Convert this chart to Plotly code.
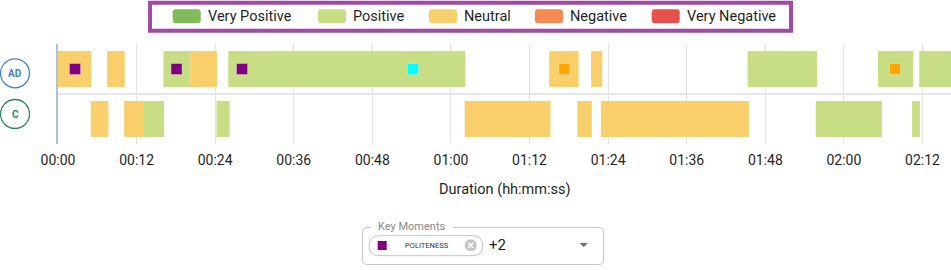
import plotly.graph_objects as go

# ---------------- data ----------------
rows = ["C", "AD"]  # bottom -> top
row_colors = {"AD": "#3f80d6", "C": "#2a8a66"}

sentiments = ["Very Positive", "Positive", "Neutral", "Negative", "Very Negative"]
sentiment_colors = ["#82bb5a", "#c8de84", "#f8cf6b", "#f58b53", "#e6524b"]

# speaker AD segments (seconds)
ad_start = [0.0, 7.5, 16.1, 20.2, 26.0, 75.0, 81.4, 105.3, 125.2, 131.5]
ad_end = [5.1, 10.2, 20.2, 24.3, 62.2, 79.5, 83.1, 115.9, 130.6, 136.4]
ad_sentiment = ["Neutral", "Neutral", "Positive", "Neutral", "Positive",
                "Neutral", "Neutral", "Positive", "Positive", "Positive"]

# speaker C segments (seconds)
c_start = [5.0, 10.1, 13.1, 24.2, 62.1, 79.3, 82.9, 115.7, 130.4]
c_end = [7.7, 13.1, 16.2, 26.2, 75.2, 81.5, 105.5, 125.8, 131.6]
c_sentiment = ["Neutral", "Neutral", "Positive", "Positive", "Neutral",
               "Neutral", "Neutral", "Positive", "Positive"]

# key moments (on AD row)
moment_time = [2.6, 18.1, 28.1, 54.2, 77.3, 127.8]
moment_color = ["#800080", "#800080", "#800080", "#00ffff", "#ffa500", "#ffa500"]

tick_vals = [0, 12, 24, 36, 48, 60, 72, 84, 96, 108, 120, 132]
tick_text = ["00:00", "00:12", "00:24", "00:36", "00:48", "01:00",
             "01:12", "01:24", "01:36", "01:48", "02:00", "02:12"]
x_max = 136.35

# ---------------- figure ----------------
W, H = 951, 270
ML, MR, MT, MB = 58, 0, 44, 126
PW, PH = W - ML - MR, H - MT - MB


def xp(px):
    return (px - ML) / PW


def yp(py):
    return (H - MB - py) / PH


FONT = "Roboto"
fig = go.Figure()

for name, col in zip(sentiments, sentiment_colors):
    base, dur, ys = [], [], []
    for s, e, sen in zip(ad_start, ad_end, ad_sentiment):
        if sen == name:
            base.append(s); dur.append(e - s); ys.append(rows.index("AD"))
    for s, e, sen in zip(c_start, c_end, c_sentiment):
        if sen == name:
            base.append(s); dur.append(e - s); ys.append(rows.index("C"))
    fig.add_trace(go.Bar(
        x=dur, base=base, y=ys, orientation="h", width=0.72,
        marker=dict(color=col, line=dict(width=0)), name=name,
        showlegend=False, hoverinfo="skip"))

fig.add_trace(go.Scatter(
    x=moment_time, y=[rows.index("AD")] * len(moment_time), mode="markers",
    marker=dict(symbol="square", size=11, color=moment_color,
                line=dict(width=1, color="rgba(255,255,255,0.3)")),
    showlegend=False, hoverinfo="skip"))

shapes = []
annotations = []

# row label circles
for r in rows:
    cy = 73.3 if r == "AD" else 114.0
    shapes.append(dict(type="circle", xref="paper", yref="paper",
                       x0=xp(0.5), x1=xp(29.5), y0=yp(cy - 14.5), y1=yp(cy + 14.5),
                       line=dict(color=row_colors[r], width=1.3),
                       fillcolor="white"))
    annotations.append(dict(x=xp(15), y=yp(cy), xref="paper", yref="paper",
                            xanchor="center", yanchor="middle",
                            text="<b>%s</b>" % r, showarrow=False,
                            font=dict(family=FONT, size=10, color=row_colors[r])))

# legend box
shapes.append(dict(type="rect", xref="paper", yref="paper",
                   x0=xp(150), x1=xp(791), y0=yp(2.7), y1=yp(30.7),
                   line=dict(color="#a04aa3", width=4), fillcolor="white"))
legend_x = [172.7, 318, 429, 535, 651.7]
for name, col, lx in zip(sentiments, sentiment_colors, legend_x):
    shapes.append(dict(type="path", xref="paper", yref="paper",
                       path=("M {a},{b} L {c},{b} Q {d},{b} {d},{e} L {d},{f} Q {d},{g} {c},{g} "
                             "L {a},{g} Q {h},{g} {h},{f} L {h},{e} Q {h},{b} {a},{b} Z").format(
                           a=xp(lx + 3), c=xp(lx + 25), d=xp(lx + 28), h=xp(lx),
                           b=yp(9.3), e=yp(12.3), f=yp(20.3), g=yp(23.3)),
                       line=dict(width=0), fillcolor=col))
    annotations.append(dict(x=xp(lx + 33), y=yp(16.3), xref="paper", yref="paper",
                            text=name, showarrow=False, xanchor="left", yanchor="middle",
                            font=dict(family=FONT, size=14.5, color="#1f1f1f")))

# axis title
annotations.append(dict(x=0.5, y=yp(189), xref="paper", yref="paper",
                        text="Duration (hh:mm:ss)", showarrow=False,
                        xanchor="center", yanchor="middle",
                        font=dict(family=FONT, size=14.5, color="#1f1f1f")))

# Key Moments widget
def rrect(x0, y0, x1, y1, r):
    return ("M {a},{y0} L {b},{y0} Q {x1},{y0} {x1},{c} L {x1},{d} Q {x1},{y1} {b},{y1} "
            "L {a},{y1} Q {x0},{y1} {x0},{d} L {x0},{c} Q {x0},{y0} {a},{y0} Z").format(
        a=xp(x0 + r), b=xp(x1 - r), x0=xp(x0), x1=xp(x1),
        y0=yp(y0), y1=yp(y1), c=yp(y0 + r), d=yp(y1 - r))

shapes.append(dict(type="path", xref="paper", yref="paper",
                   path=rrect(362.5, 227.5, 603.5, 264.5, 4),
                   line=dict(color="#c6c6c6", width=1), fillcolor="white"))
shapes.append(dict(type="rect", xref="paper", yref="paper",
                   x0=xp(371), x1=xp(453), y0=yp(224), y1=yp(231),
                   line=dict(width=0), fillcolor="white"))
annotations.append(dict(x=xp(375.5), y=yp(226.5), xref="paper", yref="paper",
                        text="Key Moments", showarrow=False, xanchor="left", yanchor="middle",
                        font=dict(family=FONT, size=11, color="#8a8a8a")))
shapes.append(dict(type="path", xref="paper", yref="paper",
                   path=rrect(369, 235.7, 482.7, 255.7, 10),
                   line=dict(color="#c4c4c4", width=1), fillcolor="white"))
shapes.append(dict(type="rect", xref="paper", yref="paper",
                   x0=xp(377.7), x1=xp(386.7), y0=yp(241), y1=yp(250),
                   line=dict(width=0), fillcolor="#800080"))
annotations.append(dict(x=xp(402.5), y=yp(245.5), xref="paper", yref="paper",
                        text="POLITENESS", showarrow=False, xanchor="left", yanchor="middle",
                        font=dict(family=FONT, size=7.5, color="#333333")))
shapes.append(dict(type="circle", xref="paper", yref="paper",
                   x0=xp(464.7), x1=xp(476.7), y0=yp(239.3), y1=yp(251.3),
                   line=dict(width=0), fillcolor="#c4c4c4"))
shapes.append(dict(type="path", xref="paper", yref="paper",
                   path="M {a},{b} L {c},{d} M {a},{d} L {c},{b}".format(
                       a=xp(468.2), c=xp(473.2), b=yp(242.8), d=yp(247.8)),
                   line=dict(color="white", width=1.6)))
annotations.append(dict(x=xp(486.5), y=yp(245.5), xref="paper", yref="paper",
                        text="+2", showarrow=False, xanchor="left", yanchor="middle",
                        font=dict(family=FONT, size=15, color="#1f1f1f")))
shapes.append(dict(type="path", xref="paper", yref="paper",
                   path="M {a},{b} L {c},{b} L {m},{d} Z".format(
                       a=xp(579.5), c=xp(588), m=xp(583.75), b=yp(243), d=yp(247.3)),
                   line=dict(width=0), fillcolor="#757575"))

fig.update_layout(
    width=W, height=H,
    margin=dict(l=ML, r=MR, t=MT, b=MB),
    paper_bgcolor="white", plot_bgcolor="white",
    barmode="overlay", showlegend=False,
    shapes=shapes, annotations=annotations,
    font=dict(family=FONT, size=14, color="#1f1f1f"),
    xaxis=dict(range=[0, x_max], tickvals=tick_vals, ticktext=tick_text,
               showgrid=True, gridcolor="#e2e2e2", gridwidth=1,
               zeroline=False, showline=False, ticks="",
               tickfont=dict(family=FONT, size=14, color="#1f1f1f"),
               ticklabelstandoff=6, fixedrange=True),
    yaxis=dict(range=[-0.5, 1.5], tickvals=[-0.5, 0.5, 1.5], showticklabels=False,
               showgrid=True, gridcolor="#e6e6e6", gridwidth=1.5,
               zeroline=False, showline=True, linecolor="#a9c3d8", linewidth=1.5,
               ticks="", fixedrange=True),
)

fig.write_html("out.html")
